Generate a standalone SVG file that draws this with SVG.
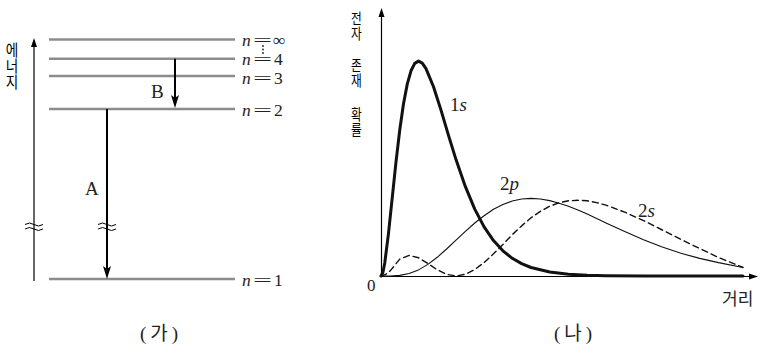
<svg xmlns="http://www.w3.org/2000/svg" width="761" height="350" viewBox="0 0 761 350">
<style>
.lvl{stroke:#8c8c8c;stroke-width:2.6}
.ax{stroke:#000;stroke-width:1.2;fill:none}
.tr{stroke:#000;stroke-width:2}
.brk{stroke:#000;stroke-width:1;fill:none}
.serif{font-family:"Liberation Serif","Noto Sans CJK KR",serif;fill:#222}
.it{font-style:italic}
.kr{font-family:"Noto Sans CJK KR",sans-serif;fill:#222}
.vt{writing-mode:vertical-rl;font-size:15px;fill:#000}
.lab{font-size:19px}
.nl{font-size:17.5px}
.curve{fill:none;stroke:#111;stroke-linejoin:round;stroke-linecap:round}
</style>
<rect width="761" height="350" fill="#fff"/>

<!-- Panel (가) -->
<g id="energy-axis">
  <line class="ax" x1="34" y1="44" x2="34" y2="281"/>
  <polygon points="34,38 31,47 37,47" fill="#000"/>
  <path class="brk" d="M25,224.5 q4.5,-3 9,0 t9,0 M25,229 q4.5,-3 9,0 t9,0"/>
  <g transform="translate(12,0) scale(0.85,1)">
    <text class="kr vt" x="0" y="42" style="font-size:16px">에너지</text>
  </g>
</g>

<g id="level-inf">
  <line class="lvl" x1="49" y1="39.5" x2="235" y2="39.5"/>
  <text class="serif it nl" x="242" y="45.5">n</text>
  <text class="serif nl" x="253" y="45.5" textLength="19" lengthAdjust="spacingAndGlyphs">=</text>
  <text class="serif nl" x="273" y="45.5">∞</text>
  <circle cx="263" cy="46" r="0.9" fill="#222"/>
  <circle cx="263" cy="49.5" r="0.9" fill="#222"/>
  <circle cx="263" cy="53" r="0.9" fill="#222"/>
</g>
<g id="level-4">
  <line class="lvl" x1="49" y1="58.7" x2="235" y2="58.7"/>
  <text class="serif it nl" x="242" y="64.5">n</text>
  <text class="serif nl" x="253" y="64.5" textLength="19" lengthAdjust="spacingAndGlyphs">=</text>
  <text class="serif nl" x="274" y="64.5">4</text>
</g>
<g id="level-3">
  <line class="lvl" x1="49" y1="76" x2="235" y2="76"/>
  <text class="serif it nl" x="242" y="83.5">n</text>
  <text class="serif nl" x="253" y="83.5" textLength="19" lengthAdjust="spacingAndGlyphs">=</text>
  <text class="serif nl" x="274" y="83.5">3</text>
</g>
<g id="level-2">
  <line class="lvl" x1="49" y1="109" x2="235" y2="109"/>
  <text class="serif it nl" x="242" y="116">n</text>
  <text class="serif nl" x="253" y="116" textLength="19" lengthAdjust="spacingAndGlyphs">=</text>
  <text class="serif nl" x="274" y="116">2</text>
</g>
<g id="level-1">
  <line class="lvl" x1="49" y1="279" x2="235" y2="279"/>
  <text class="serif it nl" x="242" y="286">n</text>
  <text class="serif nl" x="253" y="286" textLength="19" lengthAdjust="spacingAndGlyphs">=</text>
  <text class="serif nl" x="274" y="286">1</text>
</g>

<g id="connectors">
  <line class="tr" x1="175" y1="58.7" x2="175" y2="100"/>
  <polygon points="175,108 171,95 175,98 179,95" fill="#000"/>
  <line class="tr" x1="107" y1="109" x2="107" y2="271"/>
  <polygon points="107,279 103,266 107,269 111,266" fill="#000"/>
  <path class="brk" d="M98,224.5 q4.5,-3 9,0 t9,0 M98,229 q4.5,-3 9,0 t9,0"/>
</g>
<g id="label-B"><text class="serif lab" x="151" y="98">B</text></g>
<g id="label-A"><text class="serif lab" x="85" y="195">A</text></g>
<g id="caption-ga"><text class="serif" x="161" y="340" font-size="19" text-anchor="middle" letter-spacing="4">(가)</text></g>

<!-- Panel (나) -->
<g id="axes">
  <line class="ax" x1="381.5" y1="14" x2="381.5" y2="276.5"/>
  <polygon points="381.5,8 378.5,17 384.5,17" fill="#000"/>
  <line class="ax" x1="381" y1="276.5" x2="752" y2="276.5"/>
  <polygon points="758,276.5 749,273.5 749,279.5" fill="#000"/>
  <text class="serif" x="367" y="291" font-size="17">0</text>
  <text class="kr" x="722" y="305" style="font-size:17px">거리</text>
  <g transform="translate(356.5,0) scale(0.78,1)">
    <text class="kr vt" x="0" y="11">전자</text>
    <text class="kr vt" x="0" y="58">존재</text>
    <text class="kr vt" x="0" y="107">확률</text>
  </g>
</g>

<g id="curve-1s">
  <path class="curve" stroke-width="3" d="M381,276 L382.9,272.5 L384.75,263 L388.5,233.4 L392.25,197.6 L396,161.8 L399.75,130 L403.5,103.8 L407.25,84.1 L411,70.8 L414.75,63.4 L418.5,61.1 L422.25,63.1 L426,68.6 L433.5,86.7 L441,110.1 L448.5,135.4 L456,159.6 L465.4,186.7 L474.75,209.1 L484.1,226.9 L493.5,240.6 L502.9,250.8 L512.25,258.3 L521.6,263.6 L531,267.5 L549.75,272 L568.5,274.2 L587.25,275.3 L606,275.7 L643.5,276 L743,276"/>
  <text class="serif" x="450" y="111" font-size="19">1<tspan class="it">s</tspan></text>
</g>
<g id="curve-2p">
  <path class="curve" stroke-width="1.1" d="M381,276 L390.4,275.95 L399.75,275.4 L409.1,273.5 L418.5,269.9 L427.9,264.4 L437.25,257.3 L446.6,249 L456,240.2 L465.4,231.4 L474.75,223 L484.1,215.8 L493.5,209.3 L502.9,204.6 L512.25,201 L521.6,199 L531,198.4 L540.4,199 L549.75,200.6 L559.1,203.2 L568.5,206.3 L577.9,210 L587.25,214.1 L606,222.9 L624.75,231.6 L643.5,239.8 L662.25,247.1 L681,253.3 L699.75,258.4 L718.5,262.6 L743,267.5"/>
  <text class="serif" x="500" y="190" font-size="19">2<tspan class="it">p</tspan></text>
</g>
<g id="curve-2s">
  <path class="curve" stroke-width="1.4" stroke-dasharray="6,4" d="M381,276 L385.7,274.4 L390.4,270.6 L399.75,259.1 L409.1,255.4 L418.5,257.7 L427.9,263.5 L437.25,269.8 L446.6,274.35 L456,276 L465.4,274.3 L474.75,269.6 L484.1,262.5 L493.5,253.8 L502.9,244.5 L512.25,234.7 L521.6,225.9 L531,217.8 L540.4,211.4 L549.75,206.2 L559.1,202.8 L568.5,200.8 L577.9,200.3 L587.25,200.8 L596.6,202.6 L606,205.1 L624.75,212.2 L643.5,220.6 L662.25,230 L681,239.5 L699.75,248.5 L718.5,257.5 L743,267.5"/>
  <text class="serif" x="638" y="217" font-size="19">2<tspan class="it">s</tspan></text>
</g>
<g id="caption-na"><text class="serif" x="575" y="340" font-size="19" text-anchor="middle" letter-spacing="4">(나)</text></g>
</svg>
